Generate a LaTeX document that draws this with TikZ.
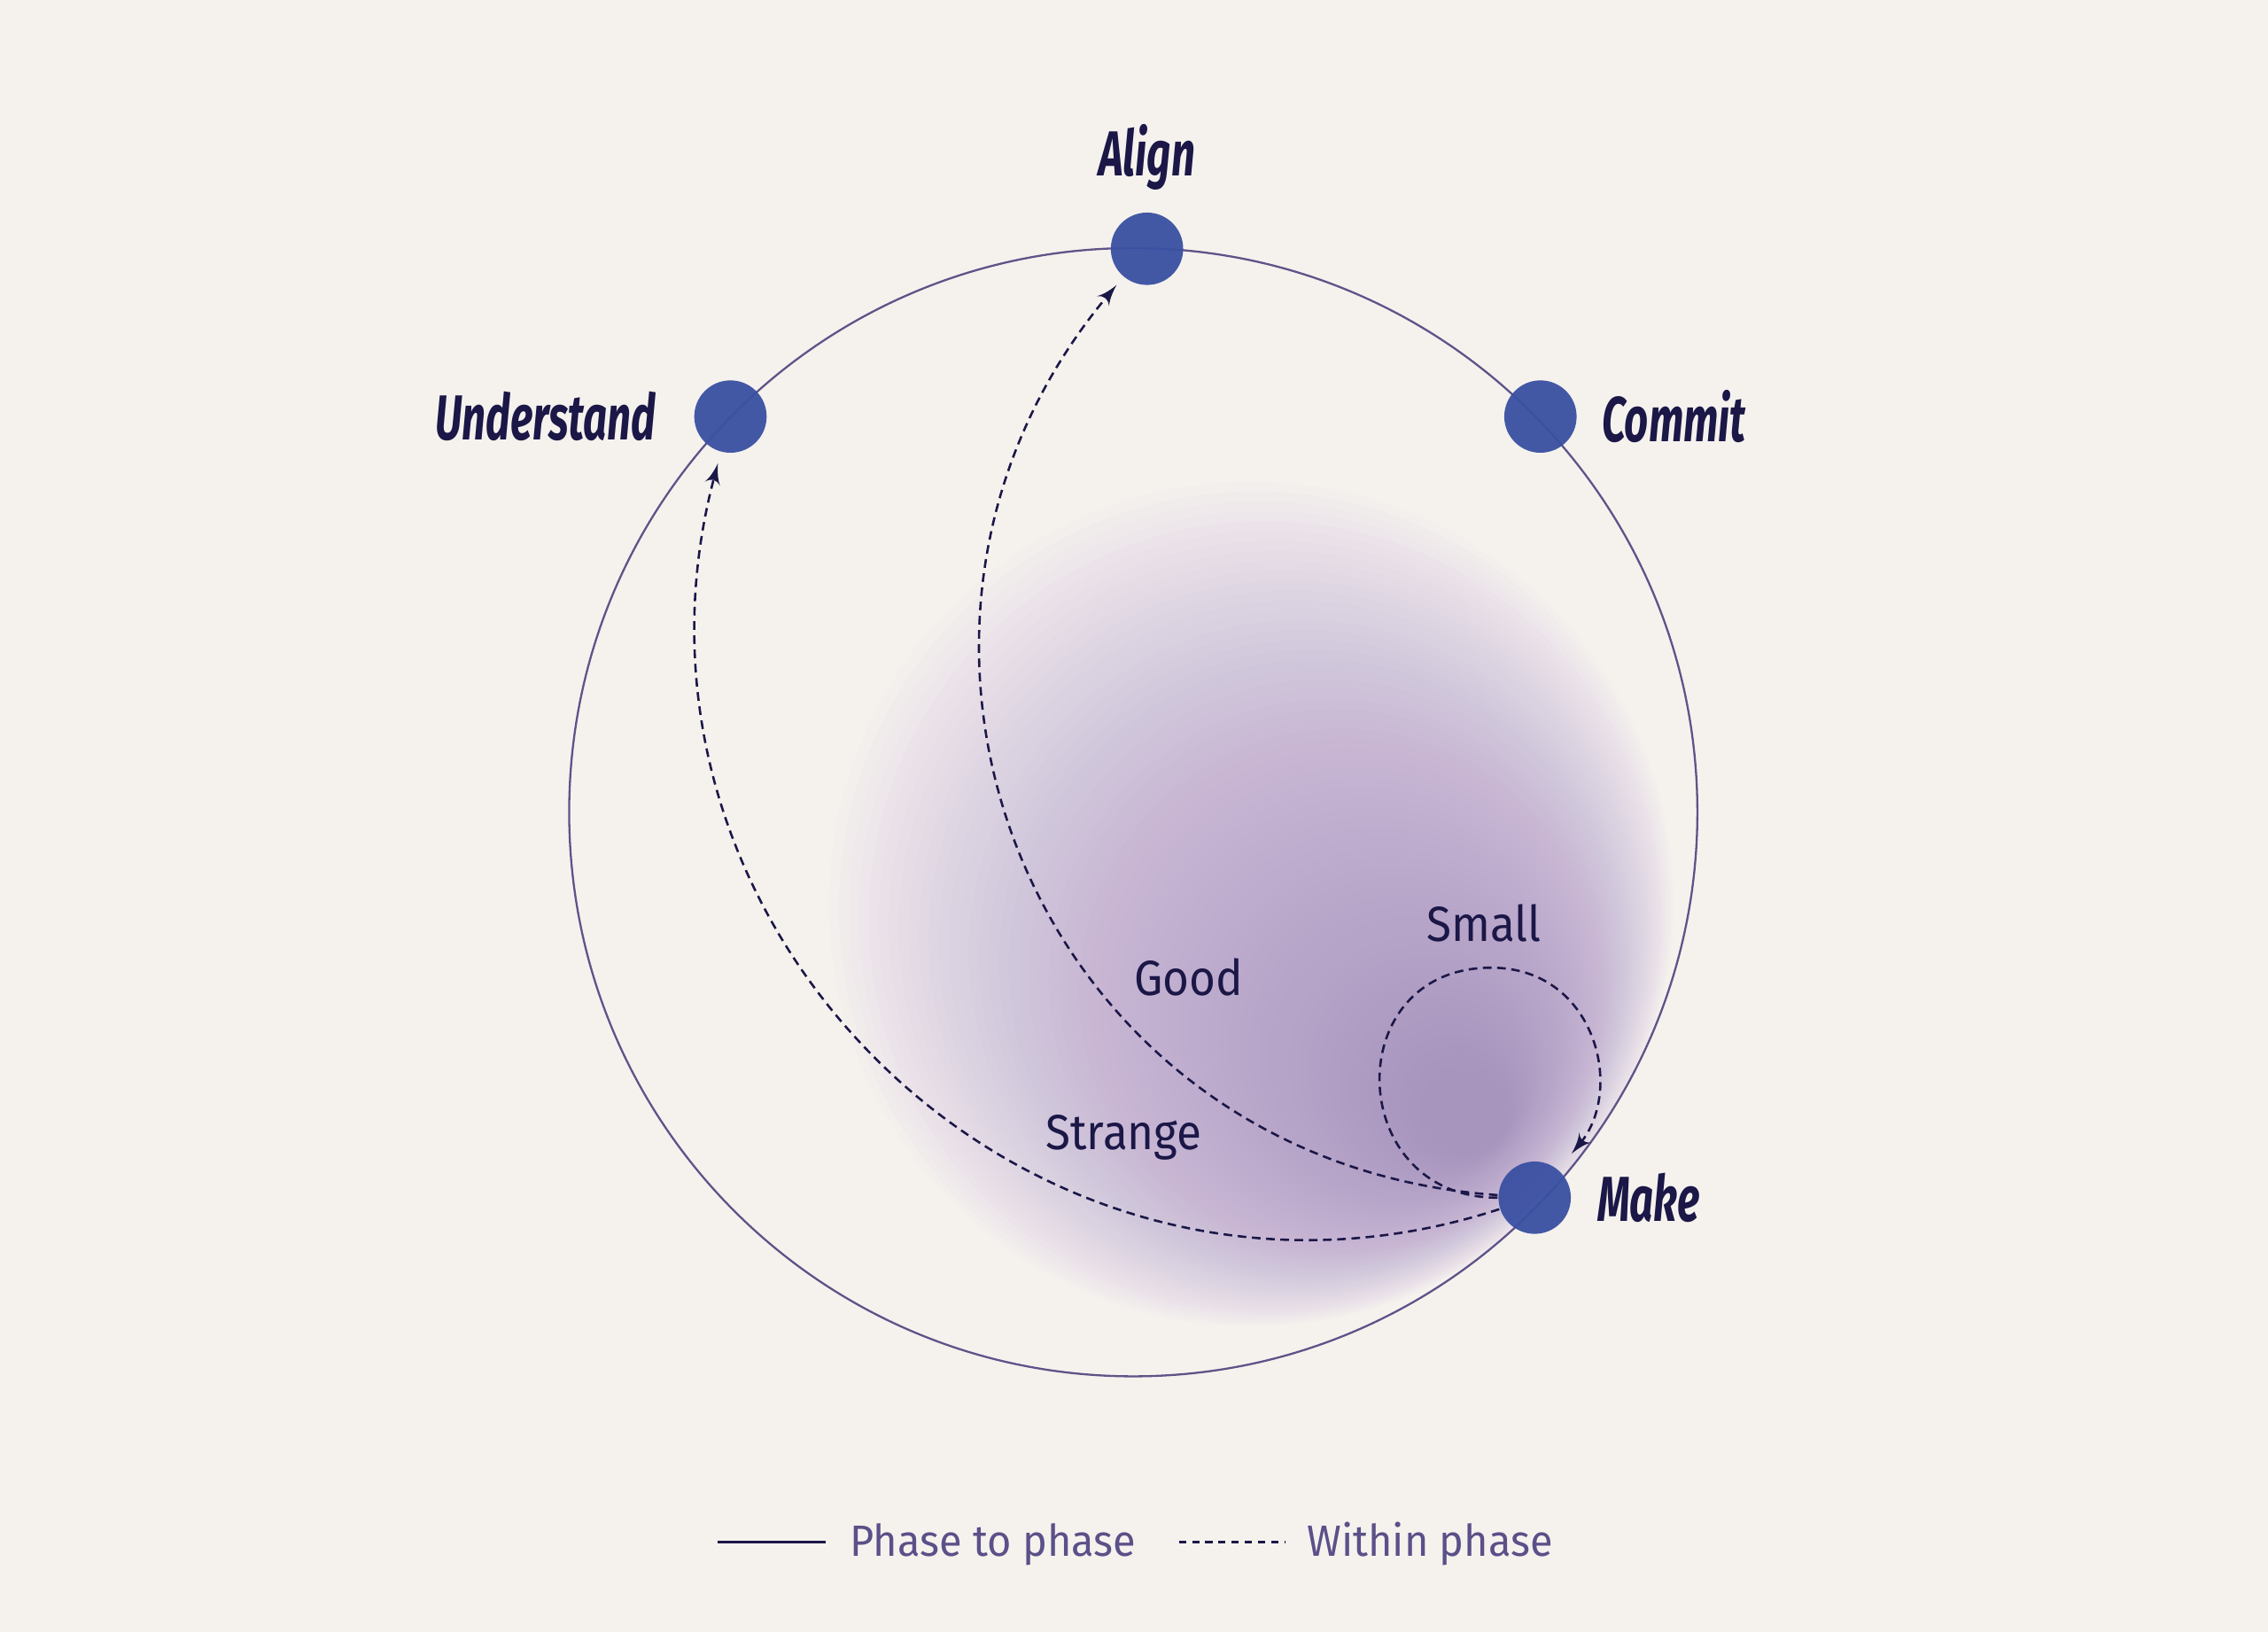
\documentclass[tikz,border=0pt]{standalone}
\usepackage{fontspec}
\setmainfont{Fira Sans}
\newfontfamily\phasefont[FakeStretch=0.66]{Fira Sans}
\newfontfamily\notefont[FakeStretch=0.92]{Fira Sans}
\newfontfamily\keyfont[FakeStretch=0.95]{Fira Sans}
\usepackage{tikz}
\usetikzlibrary{shapes,arrows,positioning}

\definecolor{paper}{HTML}{F5F2EE}
\definecolor{ink}{HTML}{1B1747}
\definecolor{ring}{HTML}{5E5488}
\definecolor{dot}{HTML}{3A50A2}
\definecolor{keytext}{HTML}{5B5088}
\definecolor{blobout}{HTML}{A08CE0}
\definecolor{blobmid}{HTML}{AE8CD2}
\definecolor{blobin}{HTML}{8676BE}

\begin{document}
\begin{tikzpicture}[x=0.01cm, y=0.01cm, >=latex', node distance=0.2cm]
    \tikzstyle{phase} = [circle, fill=dot, fill opacity=0.95, minimum size=0.5cm, inner sep=0pt]
    \tikzstyle{phaselabel} = [text=ink, font=\phasefont\bfseries\itshape\fontsize{12.5}{14}\selectfont, inner sep=0pt]
    \tikzstyle{note} = [text=ink, font=\notefont\fontsize{9.7}{11}\selectfont, anchor=base]
    \tikzstyle{key} = [text=keytext, font=\keyfont\fontsize{8.6}{10}\selectfont, inner sep=0pt, anchor=base west]
    \tikzstyle{within} = [draw=ink, line width=0.45pt, dash pattern=on 1.7pt off 1.1pt]
    \tikzstyle{ringline} = [draw=ring, line width=0.4pt]
    \tikzstyle{haze} = [opacity=0.023]

    \fill[paper] (0,0) rectangle (1568,1128);
    \useasboundingbox (0,0) rectangle (1568,1128);

    % soft purple cloud, clipped by the ring
    \begin{scope}
        \clip (783.5,566.5) circle (390);
        \foreach \i in {0,...,29} {
            \pgfmathsetmacro{\ratio}{\i/60}
            \pgfmathsetmacro{\mix}{100-100*\i/29}
            \fill[blobout!\mix!blobmid, haze] ({865+150*\ratio},{503-145*\ratio}) circle ({292-265*\ratio});
        }
        \foreach \i in {30,...,59} {
            \pgfmathsetmacro{\ratio}{\i/60}
            \pgfmathsetmacro{\mix}{100-100*(\i-30)/29}
            \fill[blobmid!\mix!blobin, haze] ({865+150*\ratio},{503-145*\ratio}) circle ({292-265*\ratio});
        }
    \end{scope}

    \draw[ringline] (783.5,566.5) circle (390);

    % phases
    \node[phase] (align) at (793,956) {};
    \node[phase] (understand) at (505,840) {};
    \node[phase] (commit) at (1065,840) {};
    \node[phase] (make) at (1061,300) {};

    \node[phaselabel, above=0.14cm of align] (alignlabel) {Align};
    \node[phaselabel, left=0.25cm of understand] (understandlabel) {Understand};
    \node[phaselabel, right=0.16cm of commit] (commitlabel) {Commit};
    \node[phaselabel, right=0.17cm of make] (makelabel) {Make};

    \node[note] (good) at (822,440) {Good};
    \node[note] (strange) at (777,333) {Strange};
    \node[note] (small) at (1026,477) {Small};

    % within phase loops
    \coordinate (looptop) at (1031,459);
    \path[within, ->, shorten >=2.2pt] (make) to[out=198, in=255, looseness=1.16] (understand);
    \path[within, ->, shorten >=2pt] (make) to[out=176, in=230, looseness=1.2] (align);
    \path[within, ->, shorten >=4pt] (make) to[out=180, in=180, looseness=1.7] (looptop)
        to[out=0, in=50, looseness=1.25] (make);

    % legend
    \coordinate (solidstart) at (496,62);
    \coordinate (solidend) at (571,62);
    \coordinate (dashstart) at (815,62);
    \coordinate (dashend) at (889,62);
    \draw[draw=ink, line width=0.5pt] (solidstart) -- (solidend);
    \node[key] (phasekey) at (587,52) {Phase to phase};
    \draw[within, dash pattern=on 1.4pt off 1.2pt] (dashstart) -- (dashend);
    \node[key] (withinkey) at (903,52) {Within phase};
\end{tikzpicture}
\end{document}
